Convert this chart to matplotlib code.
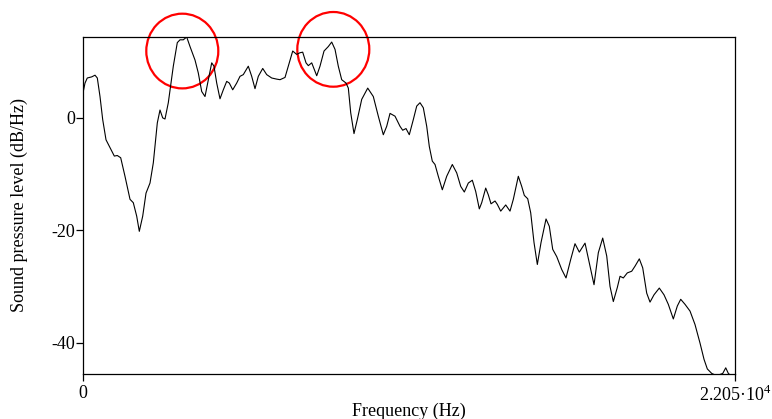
import matplotlib
matplotlib.use('Agg')
import matplotlib.pyplot as plt
from matplotlib.patches import Ellipse
import numpy as np

plt.rcParams['font.family'] = ['Liberation Serif', 'DejaVu Serif']
plt.rcParams['mathtext.fontset'] = 'custom'
plt.rcParams['mathtext.rm'] = 'Liberation Serif'

# spectrum: frequency (Hz) and level (dB/Hz)
freq = [10, 68, 145, 294, 406, 484, 575, 666, 778, 913, 1059, 1160, 1275, 1420,
        1590, 1701, 1816, 1904, 2019, 2131, 2266, 2378, 2513, 2604, 2695, 2773,
        2885, 3054, 3189, 3281, 3392, 3507, 3619, 3788, 3899, 4014, 4126, 4238,
        4353, 4430, 4522, 4633, 4745, 4860, 4948, 5063, 5198, 5310, 5421, 5590,
        5705, 5817, 5929, 6078, 6213, 6382, 6551, 6663, 6832, 6943, 7092, 7227,
        7339, 7430, 7542, 7620, 7735, 7904, 8015, 8151, 8296, 8411, 8523, 8634,
        8749, 8895, 8973, 9054, 9165, 9277, 9426, 9629, 9818, 9987, 10156, 10271,
        10383, 10552, 10721, 10812, 10924, 11035, 11171, 11286, 11397, 11509,
        11624, 11712, 11813, 11905, 12016, 12152, 12300, 12490, 12639, 12774,
        12896, 13031, 13166, 13281, 13403, 13484, 13619, 13707, 13799, 13934,
        14012, 14127, 14296, 14441, 14553, 14722, 14837, 14925, 15040, 15141,
        15253, 15365, 15490, 15659, 15770, 15885, 16021, 16190, 16335, 16494,
        16639, 16785, 16978, 17147, 17282, 17428, 17576, 17712, 17823, 17935,
        18070, 18162, 18273, 18408, 18557, 18669, 18814, 18929, 19064, 19176,
        19311, 19490, 19649, 19795, 19964, 20099, 20214, 20360, 20529, 20698,
        20867, 21003, 21114, 21263, 21432, 21635, 21737, 21825, 21940, 22050]
level = [4.7, 6.2, 7.1, 7.3, 7.6, 7.1, 3.8, -0.3, -3.9, -5.3, -6.8, -6.7, -7.1, -10.4,
         -14.5, -15.1, -17.5, -20.2, -17.5, -13.4, -11.6, -8.0, -0.9, 1.4, 0.0, -0.2,
         2.7, 9.2, 13.4, 13.9, 13.9, 14.4, 12.7, 10.3, 8.0, 4.7, 3.8, 6.8,
         9.8, 9.2, 6.2, 3.4, 5.0, 6.5, 6.2, 5.0, 6.2, 7.4, 7.7, 9.2,
         7.4, 5.2, 7.4, 8.8, 7.7, 7.1, 6.9, 6.8, 7.2, 9.2, 11.9, 11.3,
         11.6, 11.7, 9.8, 9.3, 9.8, 7.5, 9.2, 11.9, 12.7, 13.5, 12.2, 9.2,
         6.8, 6.2, 5.3, 0.9, -2.8, -0.3, 3.3, 5.3, 3.8, 0.3, -3.0, -1.5,
         0.8, 0.3, -1.5, -2.2, -1.9, -3.0, -0.3, 2.1, 2.7, 1.8,
         -1.5, -5.1, -7.7, -8.3, -10.4, -12.8, -10.4, -8.3, -9.8, -12.2,
         -13.2, -11.6, -11.1, -13.1, -16.2, -15.1, -12.5, -13.7, -15.3, -14.8,
         -15.4, -16.6, -15.5, -16.6, -14.5, -10.4, -12.2, -13.8, -14.4, -16.9,
         -22.2, -26.1, -22.2, -18.0, -19.3, -23.4, -24.7, -27.0, -28.5, -25.2,
         -22.4, -23.9, -22.3, -26.4, -29.7, -24.0, -21.4, -24.6, -30.0, -32.7,
         -30.2, -28.2, -28.5, -27.6, -27.3, -26.4, -25.1, -26.7, -31.2, -32.8,
         -31.5, -30.3, -31.5, -33.2, -35.8, -33.5, -32.3, -33.2, -34.4, -36.8,
         -40.1, -43.0, -44.7, -45.5, -45.9, -45.5, -44.5, -45.5, -46.0, -46.0]

# highlighted peaks (centre Hz, centre dB)
circle_hz = [3358, 8465]
circle_db = [11.9, 12.2]

fig = plt.figure(figsize=(7.72, 4.19), dpi=100)
ax = fig.add_axes([83/772, 45/419, 652/772, 337/419])

ax.plot(freq, level, color='black', linewidth=0.8)
ax.set_xlim(0, 22050)
ax.set_ylim(-45.6, 14.4)

ax.set_xticks([0, 22050])
ax.set_xticklabels(['0', r'2.205·10$^{4}$'])
ax.set_yticks([-40, -20, 0])
ax.set_yticklabels(['-40', '-20', '0'])
ax.tick_params(direction='out', length=5, width=0.9, labelsize=13)
ax.tick_params(axis='y', pad=0.5)
ax.tick_params(axis='x', pad=3)
for s in ax.spines.values():
    s.set_linewidth(0.9)

ax.set_xlabel('Frequency (Hz)', fontsize=13, labelpad=-2)
ax.set_ylabel('Sound pressure level (dB/Hz)', fontsize=13, labelpad=17)

for cx, cy in zip(circle_hz, circle_db):
    ax.add_patch(Ellipse((cx, cy), width=2435, height=13.3, fill=False,
                         edgecolor='red', linewidth=1.6, clip_on=False))

fig.savefig('out.png', dpi=100)
